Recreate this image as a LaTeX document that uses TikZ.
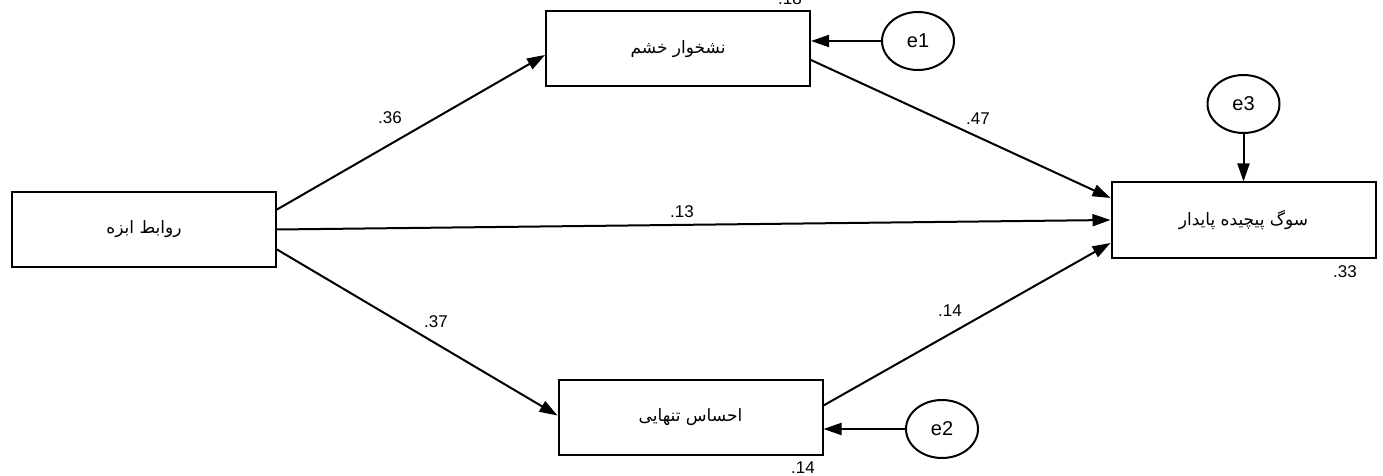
\documentclass[tikz,border=0pt]{standalone}
\usepackage{fontspec}
\setmainfont{Liberation Sans}
\newfontfamily\farsi[Script=Arabic]{DejaVu Sans}
\TeXXeTstate=1
\usetikzlibrary{arrows.meta,shapes.geometric}

\begin{document}
\begin{tikzpicture}[x=0.5pt,y=-0.5pt,->,>={Triangle[length=9pt,width=6pt]},line width=1pt,
	var node/.style={draw,rectangle,minimum width=132pt,minimum height=37.5pt,inner sep=0pt,font=\farsi\fontsize{8.5}{10}\selectfont},
	err node/.style={draw,ellipse,minimum width=36pt,minimum height=29pt,inner sep=0pt,font=\fontsize{10}{12}\selectfont},
	coef/.style={inner sep=0pt,font=\fontsize{8.5}{10}\selectfont}]

	\useasboundingbox (0,0) rectangle (1383,476);

	\node[var node] (obj) at (144,229.5) {\beginR روابط ابزه\endR};
	\node[var node] (rum) at (678,49) {\beginR نشخوار خشم\endR};
	\node[var node] (lone) at (690.5,417.5) {\beginR احساس تنهایی\endR};
	\node[var node] (grief) at (1243.5,220) {\beginR سوگ پیچیده پایدار\endR};

	\node[err node] (e1) at (918,41) {e1};
	\node[err node] (e2) at (942,429) {e2};
	\node[err node] (e3) at (1243.5,104) {e3};

	% path coefficients and r-squares
	\node[coef] (r18) at (790,-1) {.18};
	\node[coef] (r14) at (803,468) {.14};
	\node[coef] (r33) at (1345,272) {.33};
	\node[coef] (c36) at (390,118) {.36};
	\node[coef] (c37) at (436,322) {.37};
	\node[coef] (c13) at (682,212) {.13};
	\node[coef] (c47) at (978,119) {.47};
	\node[coef] (c14) at (950,311) {.14};

	\draw ([yshift=10pt]obj.east) -- ([yshift=-3pt]rum.west);
	\draw (obj.east) -- (grief.west);
	\draw ([yshift=-10pt]obj.east) -- ([yshift=1pt]lone.west);
	\draw ([yshift=-5.5pt]rum.east) -- ([yshift=11pt]grief.west);
	\draw ([yshift=6pt]lone.east) -- ([yshift=-11.5pt]grief.west);
	\draw (e1) -- (e1 -| rum.east);
	\draw (e2) -- (e2 -| lone.east);
	\draw (e3) -- (e3 |- grief.north);
\end{tikzpicture}
\end{document}
